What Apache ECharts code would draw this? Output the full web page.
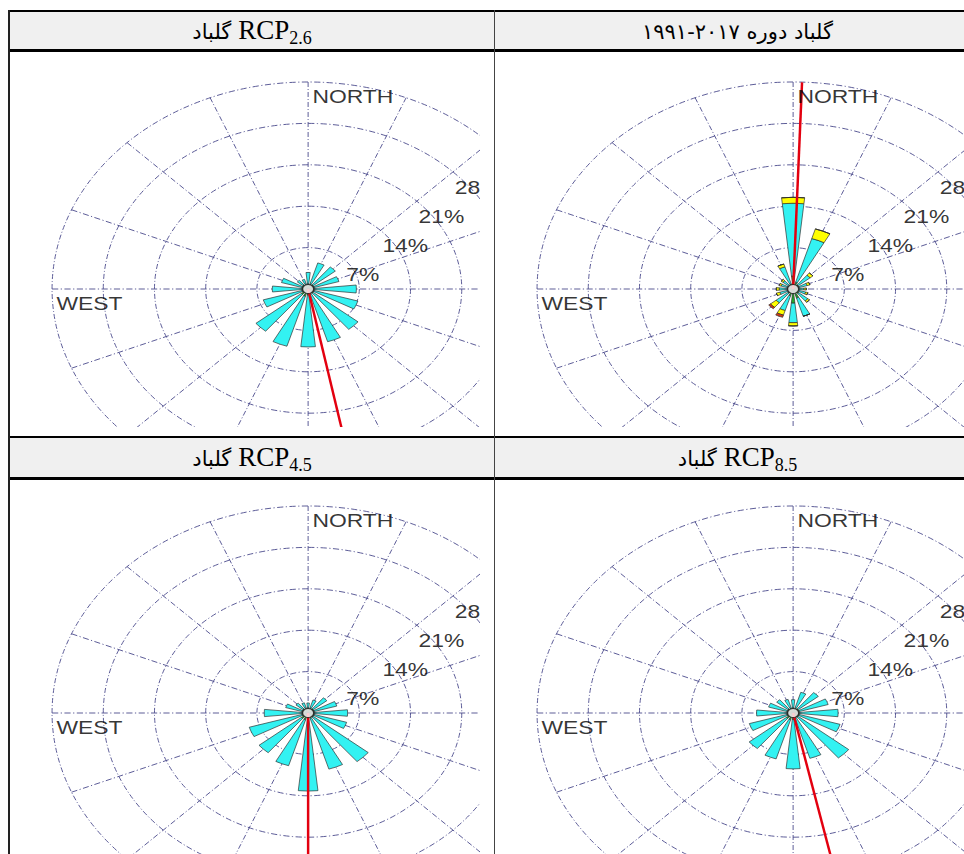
<!DOCTYPE html>
<html>
<head>
<meta charset="utf-8">
<script src="https://cdn.jsdelivr.net/npm/echarts@6.0.0/dist/echarts.min.js"></script>
<style>
  html,body{margin:0;padding:0;background:#fff}
  body{width:964px;height:854px;overflow:hidden;position:relative}
  .ln{position:absolute;background:#000;z-index:3}
  .hd{position:absolute;background:#f0f0f0;display:flex;align-items:center;justify-content:center;
      font-family:"Liberation Serif","DejaVu Sans",serif;font-size:27px;color:#000;white-space:nowrap;z-index:2}
  .hd .t{display:inline-block;line-height:30px}
  .hd .fa{font-family:"DejaVu Sans",sans-serif;font-size:21px}
  .hd sub{font-size:18px;vertical-align:-5px;line-height:0}
  .clip{position:absolute;overflow:hidden;width:470px;background:#fff;z-index:1}
  .chart{position:absolute;left:0;top:0;width:400px;height:460px;transform:scaleX(1.237);transform-origin:0 0}
</style>
</head>
<body>
<!-- table frame -->
<div class="ln" style="left:8px;top:10px;width:980px;height:2px"></div>
<div class="ln" style="left:8px;top:49px;width:980px;height:3px"></div>
<div class="ln" style="left:8px;top:436px;width:980px;height:2px"></div>
<div class="ln" style="left:8px;top:477px;width:980px;height:3px"></div>
<div class="ln" style="left:8px;top:10px;width:2px;height:844px;background:#222"></div>
<div class="ln" style="left:494px;top:10px;width:1px;height:844px;background:#444"></div>

<div class="hd" style="left:10px;top:12px;width:484px;height:37px"><span class="t"><span class="fa">گلباد</span> RCP<sub>2.6</sub></span></div>
<div class="hd" style="left:495px;top:12px;width:485px;height:37px"><span class="t"><span class="fa" dir="ltr" style="unicode-bidi:isolate">۱۹۹۱-۲۰۱۷</span> <span class="fa" dir="rtl" style="unicode-bidi:isolate">گلباد دوره</span></span></div>
<div class="hd" style="left:10px;top:438px;width:484px;height:39px"><span class="t"><span class="fa">گلباد</span> RCP<sub>4.5</sub></span></div>
<div class="hd" style="left:495px;top:438px;width:485px;height:39px"><span class="t"><span class="fa">گلباد</span> RCP<sub>8.5</sub></span></div>

<div class="clip" style="left:10px;top:52px;height:375px"><div id="rcp26" class="chart"></div></div>
<div class="clip" style="left:495px;top:52px;height:375px"><div id="obs" class="chart"></div></div>
<div class="clip" style="left:10px;top:476px;height:378px"><div id="rcp45" class="chart"></div></div>
<div class="clip" style="left:495px;top:476px;height:378px"><div id="rcp85" class="chart"></div></div>

<script>
// wind directions (16 sectors, clockwise from north)
const DIRS = ['N','NNE','NE','ENE','E','ESE','SE','SSE','S','SSW','SW','WSW','W','WNW','NW','NNW'];
const RINGS = [7,14,21,28];          // labelled frequency rings (%)
const RMAX = 35;                     // outer ring (%)
const COMPASS = ['NORTH','WEST'];
const COMPASS_DEG = [0,270];

// observed 1991-2017: frequency (%) per speed class, stacked outward
const OBS_G = [2.2,1.2,0.9,0.9,0.8,0.8,1.0,1.6,2.4,1.2,0.9,0.8,0.8,0.8,0.8,0.9];
const OBS_C = [12.3,7.7,2.1,1.1,0.7,1.0,1.6,3.2,3.3,2.6,2.1,1.1,1.1,0.9,1.0,3.0];
const OBS_Y = [1.0,1.7,0.5,0.4,0.3,0.3,0.3,0,0.55,0.8,1.0,0.5,0.4,0.3,0.3,0.5];
const OBS_R = [0,0,0,0,0,0,0,0,0,0.4,0.3,0,0,0,0,0];
const OBS_VEC = 2;                   // resultant vector bearing (deg)

// RCP2.6
const R26_G = [0.9,0.9,0.9,0.9,0.9,0.9,0.9,0.9,1.0,1.3,1.2,0.9,0.9,0.9,0.9,0.9];
const R26_C = [1.9,3.7,3.9,3.5,5.7,6.2,7.9,8.4,8.8,8.8,8.0,5.5,4.0,2.9,1.0,0.8];
const R26_VEC = 169;

// RCP4.5
const R45_G = [0.9,0.9,0.9,0.9,0.9,0.9,0.9,0.9,1.1,1.2,1.2,0.9,0.9,0.9,0.9,0.9];
const R45_C = [0.8,1.4,2.4,3.2,4.5,4.6,9.7,9.0,12.1,8.1,7.45,7.5,5.1,2.3,1.25,0.9];
const R45_VEC = 180;

// RCP8.5
const R85_G = [0.9,0.9,0.9,0.9,0.9,0.9,0.9,0.9,1.1,1.2,1.2,0.9,0.9,0.9,0.9,0.9];
const R85_C = [1.35,2.75,3.55,4.1,5.25,5.8,8.9,7.1,8.35,6.9,6.55,5.35,4.1,2.6,2.0,1.5];
const R85_VEC = 168;

const SPEED_COLORS = ['#1fae2a','#33f2f2','#ffff00','#cf3a12'];
const CX = 241, CY = 237, RPX = 207;

function rose(id, bins, vec){
  const c = echarts.init(document.getElementById(id), null, {renderer:'svg'});
  const off = {show:false};
  const dash = {color:'#4a4a8c', width:0.8, type:[5,2,1,2]};
  const txt = {fontFamily:'"Liberation Sans", Arial, sans-serif', fontSize:18.5, color:'#000'};
  const bars = bins.map((v,i)=>({
    type:'bar', coordinateSystem:'polar', polarIndex:1, stack:'f', data:v, barWidth:'52%',
    itemStyle:{color:SPEED_COLORS[i], borderColor:'#2a2a2a', borderWidth:0.6}, z:2
  }));
  c.setOption({
    animation:false,
    polar:[{center:[CX,CY], radius:RPX},{center:[CX,CY], radius:RPX}],
    angleAxis:[
      {polarIndex:0, type:'value', min:0, max:360, interval:22.5, startAngle:90, clockwise:true,
       axisLine:off, axisTick:off, axisLabel:off, splitLine:{show:true, lineStyle:dash}},
      {polarIndex:1, type:'category', data:DIRS, startAngle:90+180/DIRS.length, clockwise:true,
       axisLine:off, axisTick:off, axisLabel:off, splitLine:off}
    ],
    radiusAxis:[
      {polarIndex:0, min:0, max:RMAX, interval:7, axisLine:off, axisTick:off, axisLabel:off,
       splitLine:{show:true, lineStyle:dash}},
      {polarIndex:1, min:0, max:RMAX, axisLine:off, axisTick:off, axisLabel:off, splitLine:off}
    ],
    series:[
      ...bars,
      {type:'line', coordinateSystem:'polar', polarIndex:0, data:[[0,vec],[RMAX,vec]], symbol:'none',
       lineStyle:{color:'#e3000f', width:2}, z:4},
      {type:'scatter', coordinateSystem:'polar', polarIndex:0, data:[[0,0]], symbolSize:9,
       itemStyle:{color:'#fff', borderColor:'#111', borderWidth:1}, z:5},
      {type:'scatter', coordinateSystem:'polar', polarIndex:0, data:RINGS.map(r=>[r,45]), symbolSize:1,
       itemStyle:{color:'transparent'}, z:6,
       label:{show:true, position:[2,6], align:'left', verticalAlign:'top', ...txt, formatter:p=>p.value[0]+'%'}},
      {type:'scatter', coordinateSystem:'polar', polarIndex:0, data:COMPASS_DEG.map(a=>[RMAX,a]), symbolSize:1,
       itemStyle:{color:'transparent'}, z:6,
       label:{show:true, position:[4,5], align:'left', verticalAlign:'top', ...txt,
              formatter:p=>COMPASS[p.dataIndex]}}
    ]
  });
  return c;
}

rose('obs',   [OBS_G, OBS_C, OBS_Y, OBS_R], OBS_VEC);
rose('rcp26', [R26_G, R26_C], R26_VEC);
rose('rcp45', [R45_G, R45_C], R45_VEC);
rose('rcp85', [R85_G, R85_C], R85_VEC);
</script>
</body>
</html>
